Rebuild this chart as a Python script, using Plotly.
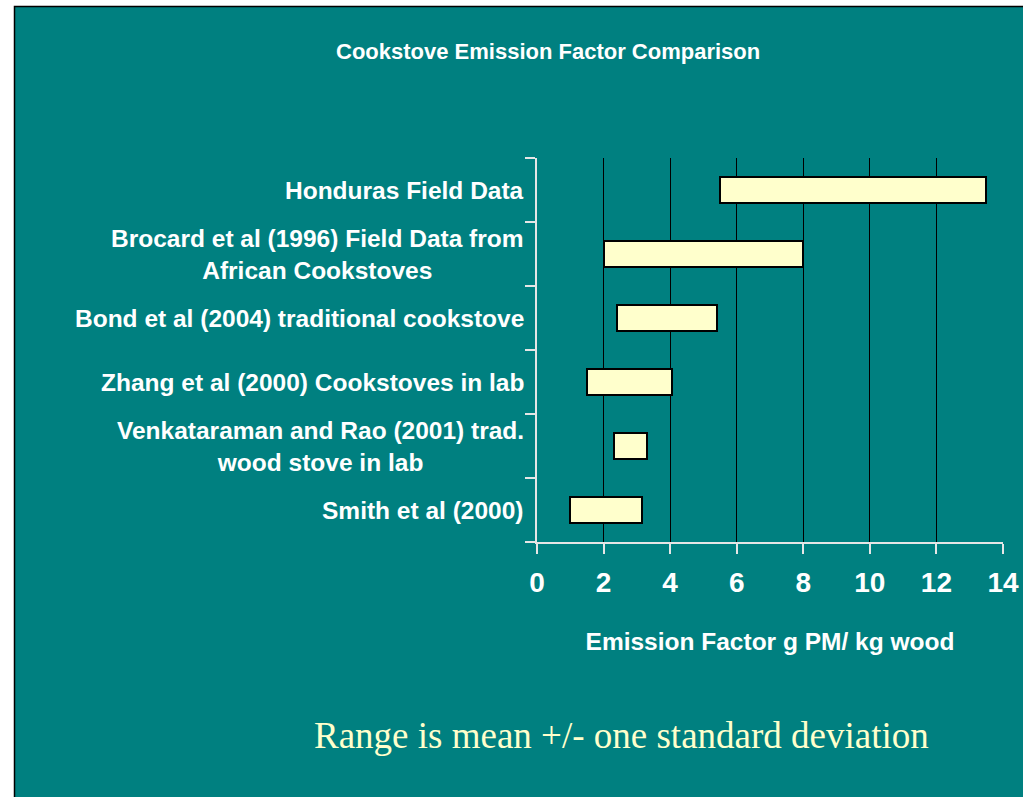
import plotly.graph_objects as go

STUDIES = [
    "Honduras Field Data",
    "Brocard et al (1996) Field Data from<br>African Cookstoves",
    "Bond et al (2004) traditional cookstove",
    "Zhang et al (2000) Cookstoves in lab",
    "Venkataraman and Rao (2001) trad.<br>wood stove in lab",
    "Smith et al (2000)",
]
RANGE_LOW = [5.5, 2.0, 2.4, 1.5, 2.3, 1.0]
RANGE_HIGH = [13.5, 8.0, 5.4, 4.05, 3.3, 3.15]
X_TICKS = [0, 2, 4, 6, 8, 10, 12, 14]

TEAL = "#008080"
CREAM = "#FFFFCC"
AXIS_GREY = "#E6E6E6"

W, H = 1023, 797
L, R, T, B = 537, 1003, 158, 542


def px_x(p):
    return (p - L) / (R - L)


def px_y(p):
    return (B - p) / (B - T)


fig = go.Figure()
fig.add_trace(go.Bar(
    y=list(range(len(STUDIES))),
    x=[hi - lo for lo, hi in zip(RANGE_LOW, RANGE_HIGH)],
    base=RANGE_LOW,
    orientation="h",
    width=0.42,
    marker=dict(color=CREAM, line=dict(color="black", width=2)),
    showlegend=False,
))

# study labels, centred lines and right-aligned against the axis
for i, name in enumerate(STUDIES):
    fig.add_annotation(
        x=px_x(526), xref="paper", y=i, yref="y",
        xanchor="right", yanchor="middle", align="center",
        text=name, showarrow=False,
        font=dict(family="Liberation Sans", size=24.5, color="white", weight="bold"),
    )

fig.add_annotation(
    x=px_x(548), xref="paper", y=px_y(51), yref="paper",
    xanchor="center", yanchor="middle",
    text="Cookstove Emission Factor Comparison", showarrow=False,
    font=dict(family="Liberation Sans", size=22, color="white", weight="bold"),
)
fig.add_annotation(
    x=px_x(621), xref="paper", y=px_y(735), yref="paper",
    xanchor="center", yanchor="middle",
    text="Range is mean +/- one standard deviation", showarrow=False,
    font=dict(family="Liberation Serif", size=37, color=CREAM),
)

# slide background with the white page strip at left/top
fig.add_shape(
    type="rect", xref="paper", yref="paper", layer="below",
    x0=px_x(14.5), x1=px_x(1030), y0=px_y(6.5), y1=px_y(805),
    fillcolor=TEAL, line=dict(color="black", width=1.5),
)

fig.update_xaxes(
    range=[0, 14], tickvals=X_TICKS, showgrid=True, gridcolor="black", gridwidth=1,
    zeroline=False, showline=True, linecolor=AXIS_GREY, linewidth=1.5,
    ticks="outside", ticklen=10, tickcolor=AXIS_GREY, tickwidth=1.5,
    ticklabelstandoff=5, automargin=False,
    tickfont=dict(family="Liberation Sans", size=28, color="white", weight="bold"),
    title=dict(text="Emission Factor g PM/ kg wood", standoff=36,
               font=dict(family="Liberation Sans", size=24.5, color="white", weight="bold")),
    fixedrange=True,
)
fig.update_yaxes(
    range=[len(STUDIES) - 0.5, -0.5], tickvals=[i - 0.5 for i in range(len(STUDIES) + 1)],
    showticklabels=False, showgrid=False, zeroline=False,
    showline=True, linecolor=AXIS_GREY, linewidth=1.5,
    ticks="outside", ticklen=10, tickcolor=AXIS_GREY, tickwidth=1.5,
    automargin=False, fixedrange=True,
)

fig.update_layout(
    width=W, height=H, autosize=False,
    margin=dict(l=L, r=W - R, t=T, b=H - B),
    paper_bgcolor="white", plot_bgcolor=TEAL,
    bargap=0,
)

fig.write_html(
    "out.html",
    config={"displayModeBar": False, "responsive": False},
    post_script="document.body.style.margin='0';document.body.style.overflow='hidden';",
)
